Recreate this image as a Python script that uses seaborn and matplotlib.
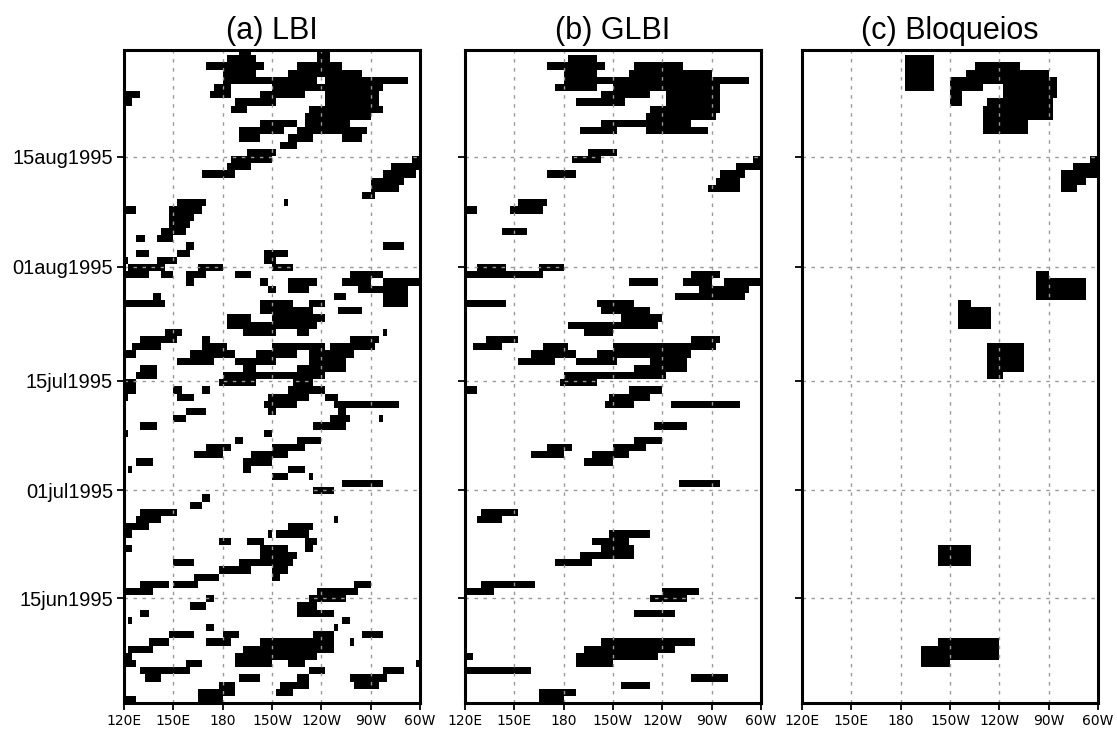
import numpy as np
import pandas as pd
import matplotlib
matplotlib.use('Agg')
import matplotlib.pyplot as plt
import seaborn as sns
from matplotlib.colors import ListedColormap

# grid: daily rows starting 01jun1995 (day 0), 2.5 deg longitude cells from 120E to 60W (300E)
n_days = 91
lon_start = 120.0
lon_step = 2.5
n_lon = 72

# blocked segments: (day, west lon, east lon) in degrees east
lbi_events = [
    (90, 190, 197.5), (90, 237.5, 245),
    (89, 182.5, 200), (89, 237.5, 245),
    (88, 170, 205), (88, 225, 252.5),
    (87, 180, 200), (87, 220, 265),
    (86, 180, 237.5), (86, 242.5, 292.5),
    (85, 175, 185), (85, 210, 277.5),
    (84, 120, 130), (84, 172.5, 185), (84, 202.5, 230), (84, 242.5, 275),
    (83, 120, 125), (83, 187.5, 212.5), (83, 242.5, 275),
    (82, 185, 195), (82, 232.5, 277.5),
    (81, 230, 270),
    (80, 202.5, 225), (80, 230, 257.5),
    (79, 190, 217.5), (79, 225, 267.5),
    (78, 190, 202.5), (78, 220, 235), (78, 252.5, 265),
    (77, 215, 225),
    (76, 195, 212.5),
    (75, 185, 210), (75, 295, 300),
    (74, 182.5, 197.5), (74, 282.5, 300),
    (73, 167.5, 187.5), (73, 277.5, 297.5),
    (72, 270, 290),
    (71, 270, 287.5),
    (70, 265, 272.5),
    (69, 152.5, 170), (69, 217.5, 220),
    (68, 120, 127.5), (68, 147.5, 167.5),
    (67, 147.5, 162.5),
    (66, 147.5, 160),
    (65, 142.5, 157.5),
    (64, 127.5, 132.5), (64, 140, 150),
    (63, 157.5, 162.5), (63, 277.5, 290),
    (62, 127.5, 135), (62, 152.5, 160), (62, 205, 220),
    (61, 120, 122.5), (61, 140, 152.5), (61, 205, 212.5),
    (60, 122.5, 145), (60, 165, 180), (60, 210, 222.5),
    (59, 120, 135), (59, 142.5, 150), (59, 157.5, 170), (59, 187.5, 197.5), (59, 257.5, 277.5),
    (58, 157.5, 162.5), (58, 202.5, 207.5), (58, 220, 237.5), (58, 252.5, 270), (58, 277.5, 300),
    (57, 207.5, 212.5), (57, 220, 232.5), (57, 262.5, 292.5),
    (56, 137.5, 142.5), (56, 247.5, 255), (56, 277.5, 292.5),
    (55, 120, 145), (55, 202.5, 222.5), (55, 232.5, 242.5), (55, 277.5, 292.5),
    (54, 202.5, 235), (54, 250, 265),
    (53, 182.5, 197.5), (53, 210, 242.5),
    (52, 182.5, 237.5),
    (51, 145, 155), (51, 192.5, 212.5), (51, 225, 232.5), (51, 277.5, 280),
    (50, 130, 152.5), (50, 167.5, 172.5), (50, 257.5, 275),
    (49, 125, 142.5), (49, 167.5, 182.5), (49, 210, 242.5), (49, 245, 272.5),
    (48, 120, 127.5), (48, 160, 187.5), (48, 200, 225), (48, 232.5, 260),
    (47, 152.5, 175), (47, 187.5, 212.5), (47, 232.5, 255),
    (46, 130, 140), (46, 192.5, 200), (46, 225, 255),
    (45, 127.5, 140), (45, 180, 242.5),
    (44, 120, 127.5), (44, 177.5, 200), (44, 222.5, 235),
    (43, 120, 127.5), (43, 150, 155), (43, 167.5, 172.5), (43, 220, 242.5),
    (42, 120, 122.5), (42, 152.5, 162.5), (42, 207.5, 232.5), (42, 242.5, 250),
    (41, 205, 225), (41, 247.5, 287.5),
    (40, 157.5, 170), (40, 207.5, 212.5), (40, 250, 255),
    (39, 150, 157.5), (39, 245, 257.5), (39, 275, 277.5),
    (38, 130, 140), (38, 235, 255),
    (37, 120, 122.5), (37, 205, 210),
    (36, 187.5, 192.5), (36, 225, 240),
    (35, 170, 185), (35, 210, 230),
    (34, 162.5, 180), (34, 197.5, 220),
    (33, 127.5, 137.5), (33, 192.5, 210),
    (32, 122.5, 125), (32, 192.5, 197.5), (32, 220, 230),
    (31, 210, 220), (31, 232.5, 235),
    (30, 252.5, 277.5),
    (29, 235, 247.5),
    (28, 167.5, 172.5),
    (27, 160, 167.5),
    (26, 130, 152.5),
    (25, 127.5, 142.5), (25, 247.5, 250),
    (24, 120, 135), (24, 220, 235),
    (23, 120, 125), (23, 207.5, 210), (23, 212.5, 232.5),
    (22, 177.5, 185), (22, 195, 205), (22, 230, 237.5),
    (21, 120, 125), (21, 202.5, 220), (21, 230, 235),
    (20, 202.5, 225),
    (19, 150, 162.5), (19, 190, 222.5),
    (18, 177.5, 197.5), (18, 210, 220),
    (17, 162.5, 177.5), (17, 210, 215),
    (16, 130, 147.5), (16, 150, 165), (16, 260, 270),
    (15, 120, 137.5), (15, 237.5, 262.5),
    (14, 170, 175), (14, 232.5, 255),
    (13, 160, 170), (13, 225, 237.5),
    (12, 130, 135), (12, 225, 247.5),
    (11, 122.5, 125), (11, 252.5, 257.5),
    (10, 170, 175), (10, 247.5, 250),
    (9, 147.5, 162.5), (9, 180, 190), (9, 235, 247.5), (9, 265, 277.5),
    (8, 135, 147.5), (8, 170, 185), (8, 202.5, 247.5), (8, 257.5, 260),
    (7, 122.5, 137.5), (7, 192.5, 247.5),
    (6, 120, 125), (6, 187.5, 237.5),
    (5, 120, 127.5), (5, 157.5, 167.5), (5, 187.5, 210), (5, 220, 230), (5, 297.5, 300),
    (4, 130, 160), (4, 232.5, 242.5), (4, 277.5, 290),
    (3, 132.5, 142.5), (3, 190, 202.5), (3, 225, 232.5), (3, 257.5, 280),
    (2, 177.5, 187.5), (2, 215, 232.5), (2, 260, 275),
    (1, 165, 187.5), (1, 212.5, 222.5),
    (0, 120, 127.5), (0, 165, 180),
]

glbi_events = [
    (89, 182.5, 200),
    (88, 170, 205), (88, 222.5, 252.5),
    (87, 180, 200), (87, 220, 270),
    (86, 180, 292.5),
    (85, 175, 200), (85, 210, 275),
    (84, 202.5, 232.5), (84, 242.5, 275),
    (83, 187.5, 217.5), (83, 242.5, 275),
    (82, 232.5, 275),
    (81, 230, 272.5),
    (80, 202.5, 257.5),
    (79, 190, 212.5), (79, 230, 267.5),
    (76, 195, 212.5),
    (75, 185, 202.5), (75, 295, 300),
    (74, 285, 300),
    (73, 170, 187.5), (73, 275, 290),
    (72, 272.5, 287.5),
    (71, 267.5, 287.5),
    (69, 152.5, 170),
    (68, 120, 127.5), (68, 147.5, 167.5),
    (65, 142.5, 157.5),
    (60, 127.5, 145), (60, 165, 180),
    (59, 120, 167.5), (59, 257.5, 275),
    (58, 220, 237.5), (58, 252.5, 270), (58, 277.5, 300),
    (57, 262.5, 292.5),
    (56, 247.5, 290),
    (55, 120, 145), (55, 200, 222.5),
    (54, 202.5, 232.5),
    (53, 215, 240),
    (52, 182.5, 237.5),
    (51, 192.5, 210),
    (50, 132.5, 152.5), (50, 257.5, 275),
    (49, 125, 142.5), (49, 167.5, 182.5), (49, 210, 272.5),
    (48, 160, 187.5), (48, 200, 257.5),
    (47, 152.5, 175), (47, 187.5, 212.5), (47, 232.5, 255),
    (46, 222.5, 255),
    (45, 180, 242.5),
    (44, 177.5, 200),
    (43, 120, 127.5), (43, 220, 240),
    (42, 207.5, 232.5),
    (41, 205, 222.5), (41, 245, 287.5),
    (38, 235, 255),
    (36, 222.5, 240),
    (35, 170, 185), (35, 210, 230),
    (34, 160, 180), (34, 197.5, 220),
    (33, 192.5, 210),
    (30, 250, 275),
    (26, 130, 152.5),
    (25, 127.5, 142.5),
    (23, 207.5, 232.5),
    (22, 197.5, 220),
    (21, 202.5, 222.5),
    (20, 190, 222.5),
    (19, 175, 197.5),
    (16, 130, 162.5),
    (15, 120, 137.5), (15, 240, 262.5),
    (14, 232.5, 255),
    (12, 222.5, 247.5),
    (8, 202.5, 260),
    (7, 192.5, 247.5),
    (6, 120, 125), (6, 187.5, 237.5),
    (5, 187.5, 210),
    (4, 120, 160),
    (3, 257.5, 280),
    (2, 215, 232.5),
    (1, 165, 187.5),
    (0, 165, 180),
]

bloq_events = [
    (89, 182.5, 200),
    (88, 182.5, 200), (88, 225, 252.5),
    (87, 182.5, 200), (87, 220, 270),
    (86, 182.5, 200), (86, 210, 275),
    (85, 182.5, 200), (85, 210, 230), (85, 242.5, 275),
    (84, 210, 217.5), (84, 242.5, 275),
    (83, 210, 217.5), (83, 232.5, 272.5),
    (82, 230, 272.5),
    (81, 230, 272.5),
    (80, 230, 257.5),
    (79, 230, 257.5),
    (75, 295, 300),
    (74, 285, 300),
    (73, 277.5, 300),
    (72, 277.5, 292.5),
    (71, 277.5, 287.5),
    (59, 262.5, 270),
    (58, 262.5, 292.5),
    (57, 262.5, 292.5),
    (56, 262.5, 292.5),
    (55, 215, 222.5),
    (54, 215, 235),
    (53, 215, 235),
    (52, 215, 235),
    (49, 232.5, 255),
    (48, 232.5, 255),
    (47, 232.5, 255),
    (46, 232.5, 255),
    (45, 232.5, 242.5),
    (21, 202.5, 222.5),
    (20, 202.5, 222.5),
    (19, 202.5, 222.5),
    (8, 202.5, 240),
    (7, 192.5, 240),
    (6, 192.5, 240),
    (5, 192.5, 210),
]

titles = ['(a) LBI', '(b) GLBI', '(c) Bloqueios']
xtick_labels = ['120E', '150E', '180', '150W', '120W', '90W', '60W']
xtick_lons = [120, 150, 180, 210, 240, 270, 300]
ytick_labels = ['15jun1995', '01jul1995', '15jul1995', '01aug1995', '15aug1995']
# label positions on the day axis (rows counted from the bottom)
ytick_rows = [14.6, 29.6, 44.8, 60.6, 75.9]


def to_frame(events):
    grid = np.zeros((n_days, n_lon))
    for day, w, e in events:
        j0 = int(round((w - lon_start) / lon_step))
        j1 = int(round((e - lon_start) / lon_step))
        grid[day, j0:j1] = 1
    # latest day on top
    return pd.DataFrame(grid[::-1])


sns.set_style('ticks')
fig = plt.figure(figsize=(11.17, 7.34), dpi=100)
W, H = 1117.0, 734.0
lefts = [124, 465, 802]
top_px, bot_px, width_px = 50.0, 703.3, 296.0
row_px = 7.2
top_lim = n_days - (bot_px - top_px) / row_px

cmap = ListedColormap(['white', 'black'])
for i, events in enumerate([lbi_events, glbi_events, bloq_events]):
    ax = fig.add_axes([lefts[i] / W, 1 - bot_px / H, width_px / W, (bot_px - top_px) / H])
    df = to_frame(events)
    sns.heatmap(df, ax=ax, cmap=cmap, vmin=0, vmax=1, cbar=False,
                xticklabels=False, yticklabels=False, linewidths=0,
                antialiased=False)
    ax.set_xlim(0, n_lon)
    ax.set_ylim(n_days, top_lim)

    ax.set_xticks([(l - lon_start) / lon_step for l in xtick_lons])
    ax.set_xticklabels(xtick_labels, fontsize=10, family='DejaVu Sans')
    ax.set_yticks([n_days - r for r in ytick_rows])
    if i == 0:
        ax.set_yticklabels(ytick_labels, fontsize=14.5, family='Liberation Sans')
    else:
        ax.set_yticklabels([])
    ax.tick_params(direction='out', length=5, width=1.3, colors='black', pad=3)
    ax.tick_params(axis='x', rotation=0)
    ax.tick_params(axis='y', rotation=0)
    ax.set_xlabel('')
    ax.set_ylabel('')

    ax.grid(True, color='#999999', linestyle=(0, (2.5, 4)), linewidth=1.0)
    ax.set_axisbelow(False)
    for sp in ax.spines.values():
        sp.set_visible(True)
        sp.set_linewidth(2.2)
        sp.set_color('black')
        sp.set_zorder(5)

    ax.set_title(titles[i], fontsize=22, family='Liberation Sans', color='black', pad=8)

fig.savefig('out.png', dpi=100)
